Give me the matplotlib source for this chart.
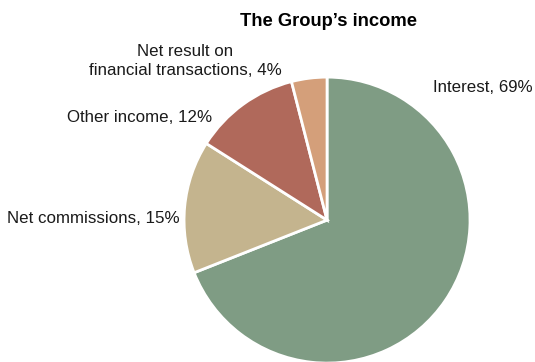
import matplotlib
matplotlib.use("Agg")
from matplotlib import pyplot as plt
from matplotlib import font_manager

# Income split, listed clockwise from 12 o'clock
categories = ["Interest", "Net commissions", "Other income",
              "Net result on\nfinancial transactions"]
shares = [69, 15, 12, 4]
colors = ["#7f9c84", "#c4b48e", "#b0695b", "#d49f7a"]

# Prefer a narrow face if one is installed, otherwise Liberation Sans
installed = {f.name for f in font_manager.fontManager.ttflist}
if "Liberation Sans Narrow" in installed:
    plt.rcParams['font.family'] = ['Liberation Sans Narrow', 'DejaVu Sans']
    label_size, title_size = 14, 15
else:
    plt.rcParams['font.family'] = ['Liberation Sans', 'DejaVu Sans']
    label_size, title_size = 12.2, 13.2

fig = plt.figure(figsize=(5.35, 3.62), dpi=100)
ax = fig.add_axes([0.344, -0.003, 0.5346, 0.790])

ax.pie(shares, colors=colors, startangle=90, counterclock=False,
       wedgeprops=dict(edgecolor="white", linewidth=2))
ax.set_xlim(-1, 1)
ax.set_ylim(-1, 1)
ax.set_aspect("equal")

# Label anchors in figure pixels (x, y from top), alignment
W, H = 535, 362
label_pos = [
    (433, 87, "left", "center"),
    (180, 219, "right", "center"),
    (212, 118, "right", "center"),
    (185, 61, "center", "center"),
]
for name, val, (px, py, ha, va) in zip(categories, shares, label_pos):
    fig.text(px / W, 1 - py / H, f"{name}, {val}%", ha=ha, va=va,
             fontsize=label_size, color="#1a1a1a", linespacing=1.4)

fig.text(328 / W, 1 - 22 / H, "The Group\u2019s income", ha="center",
         va="center", fontsize=title_size, fontweight="bold", color="black")

fig.savefig("out.png", dpi=100)
